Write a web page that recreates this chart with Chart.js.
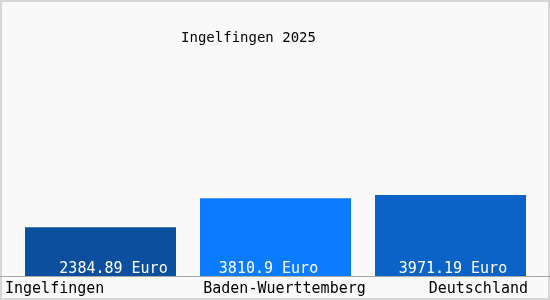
<!DOCTYPE html>
<html>
<head>
<meta charset="utf-8">
<script src="https://cdn.jsdelivr.net/npm/chart.js@4/dist/chart.umd.min.js"></script>
<style>
  html, body { margin: 0; padding: 0; background: #fff; }
  #wrap { width: 550px; height: 300px; }
</style>
</head>
<body>
<div id="wrap"><canvas id="myChart" width="550" height="300"></canvas></div>
<script>
// Data
////////////////////////////////////////////////
const title = 'Ingelfingen 2025';
const places = ['Ingelfingen', 'Baden-Wuerttemberg', 'Deutschland'];
const incomes = [2384.89, 3810.9, 3971.19];
const unit = 'Euro';

const barColours = ['#0b4f9e', '#0b7bff', '#0b63c7'];
const monoFont = '"DejaVu Sans Mono", "Liberation Mono", monospace';

// Plugins
////////////////////////////////////////////////

// paints the grey panel and its frame before anything else
const panelPlugin = {
    id: 'panel',
    beforeDraw(chart) {
        const ctx = chart.ctx;
        ctx.save();
        ctx.fillStyle = '#f9f9f9';
        ctx.fillRect(0, 0, chart.width, chart.height);
        ctx.strokeStyle = '#d6d6d6';
        ctx.lineWidth = 2;
        ctx.strokeRect(1, 1, chart.width - 2, chart.height - 2);
        ctx.restore();
    }
};

// title, baseline, value labels in the bars, place names under them
const textPlugin = {
    id: 'texts',
    afterDatasetsDraw(chart) {
        const ctx = chart.ctx;
        const yScale = chart.scales.y;
        const base = yScale.getPixelForValue(0);
        const bars = chart.getDatasetMeta(0).data;
        // small nudges of the value labels, as in the original
        const nudge = [13, -7, 2.5];

        ctx.save();

        // baseline across the whole panel
        ctx.strokeStyle = '#a8a8a8';
        ctx.lineWidth = 1;
        ctx.beginPath();
        ctx.moveTo(0, Math.round(base) + 0.5);
        ctx.lineTo(chart.width, Math.round(base) + 0.5);
        ctx.stroke();

        // title
        ctx.fillStyle = '#000';
        ctx.font = '14px ' + monoFont;
        ctx.textAlign = 'center';
        ctx.textBaseline = 'middle';
        ctx.fillText(title, 248.5, 38);

        // value labels
        ctx.font = '15px ' + monoFont;
        ctx.fillStyle = '#fff';
        ctx.textBaseline = 'alphabetic';
        bars.forEach((bar, i) => {
            ctx.textAlign = 'center';
            ctx.fillText(incomes[i] + ' ' + unit, bar.x + nudge[i], base - 3);
        });

        // place names: first left, middle centred, last right
        ctx.fillStyle = '#000';
        places.forEach((name, i) => {
            if (i === 0) {
                ctx.textAlign = 'left';
                ctx.fillText(name, 5, base + 17);
            } else if (i === places.length - 1) {
                ctx.textAlign = 'right';
                ctx.fillText(name, chart.width - 22, base + 17);
            } else {
                ctx.textAlign = 'center';
                ctx.fillText(name, bars[i].x + 9, base + 17);
            }
        });

        ctx.restore();
    }
};

// Chart
////////////////////////////////////////////////
const data = {
    labels: places,
    datasets: [{
        label: title,
        data: incomes,
        backgroundColor: barColours,
        borderWidth: 0,
        categoryPercentage: 1,
        barPercentage: 151 / 175
    }]
};

const config = {
    type: 'bar',
    data: data,
    options: {
        responsive: false,
        animation: false,
        events: [],
        layout: {
            padding: { left: 13, right: 12, top: 72, bottom: 24 }
        },
        scales: {
            x: { display: false },
            y: { display: false, min: 0, max: 10000 }
        },
        plugins: {
            legend: { display: false },
            tooltip: { enabled: false },
            title: { display: false }
        }
    },
    plugins: [panelPlugin, textPlugin]
};

const myChart = new Chart(document.getElementById('myChart'), config);
</script>
</body>
</html>
